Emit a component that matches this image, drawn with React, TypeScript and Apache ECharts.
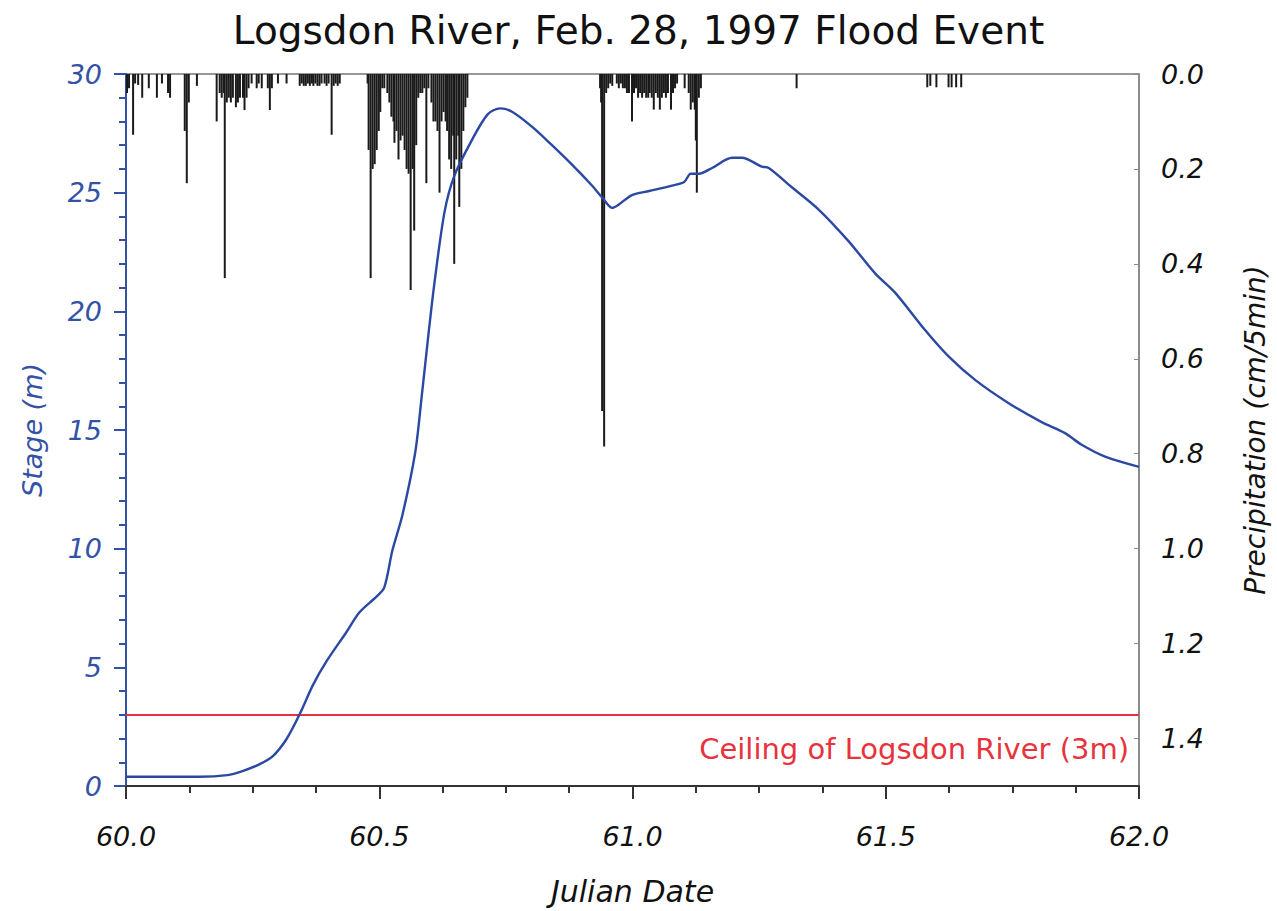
import React, { useEffect, useRef } from "react";
import * as echarts from "echarts";

// Stage hydrograph (Julian date, stage in m)
const stageTime = [
  60.0, 60.146, 60.2, 60.23, 60.264, 60.29, 60.317, 60.343, 60.369, 60.396,
  60.435, 60.461, 60.495, 60.51, 60.526, 60.546, 60.571, 60.584, 60.597, 60.609,
  60.629, 60.648, 60.68, 60.714, 60.739, 60.763, 60.802, 60.841, 60.881, 60.92,
  60.94, 60.96, 60.973, 60.999, 61.033, 61.078, 61.102, 61.115, 61.131, 61.157,
  61.197, 61.216, 61.255, 61.269, 61.314, 61.367, 61.426, 61.479, 61.518, 61.578,
  61.624, 61.677, 61.742, 61.807, 61.854, 61.886, 61.933, 62.0,
];
const stageValue = [
  0.39, 0.39, 0.46, 0.63, 0.92, 1.26, 1.98, 3.03, 4.25, 5.26,
  6.48, 7.32, 7.99, 8.37, 9.93, 11.44, 14.05, 16.45, 19.0, 21.2,
  24.2, 25.7, 27.1, 28.3, 28.55, 28.4, 27.77, 27.0, 26.17, 25.3,
  24.8, 24.36, 24.5, 24.9, 25.07, 25.3, 25.45, 25.8, 25.8, 26.04,
  26.47, 26.47, 26.1, 26.04, 25.24, 24.3, 22.97, 21.6, 20.8, 19.2,
  18.1, 17.1, 16.14, 15.34, 14.87, 14.39, 13.88, 13.45,
];

// Precipitation (Julian date, cm per 5 min)
const precipTime = [
  60.002, 60.006, 60.014, 60.018, 60.024, 60.032, 60.045, 60.061, 60.071, 60.083,
  60.087, 60.116, 60.12, 60.124, 60.14, 60.179, 60.185, 60.189, 60.193, 60.195,
  60.199, 60.203, 60.207, 60.211, 60.217, 60.221, 60.225, 60.231, 60.234, 60.238,
  60.242, 60.248, 60.258, 60.262, 60.268, 60.28, 60.284, 60.288, 60.3, 60.317,
  60.343, 60.347, 60.351, 60.355, 60.359, 60.363, 60.367, 60.37, 60.374, 60.378,
  60.382, 60.386, 60.392, 60.396, 60.4, 60.406, 60.41, 60.414, 60.418, 60.422,
  60.477, 60.479, 60.483, 60.487, 60.491, 60.495, 60.499, 60.502, 60.506, 60.51,
  60.516, 60.52, 60.524, 60.528, 60.53, 60.534, 60.538, 60.542, 60.546, 60.55,
  60.554, 60.558, 60.562, 60.566, 60.569, 60.573, 60.577, 60.581, 60.585, 60.589,
  60.593, 60.597, 60.603, 60.607, 60.611, 60.615, 60.619, 60.623, 60.627, 60.631,
  60.634, 60.638, 60.642, 60.646, 60.648, 60.652, 60.656, 60.658, 60.662, 60.666,
  60.67, 60.674,
  60.936, 60.938, 60.94, 60.944, 60.948, 60.952, 60.956, 60.96, 60.969, 60.973,
  60.977, 60.981, 60.985, 60.989, 60.993, 60.999, 61.003, 61.007, 61.011, 61.015,
  61.019, 61.023, 61.027, 61.031, 61.034, 61.038, 61.042, 61.046, 61.05, 61.054,
  61.058, 61.062, 61.066, 61.07, 61.076, 61.08, 61.084, 61.088, 61.103, 61.111,
  61.115, 61.119, 61.123, 61.125, 61.127, 61.131, 61.135, 61.324,
  61.582, 61.588, 61.6, 61.624, 61.63, 61.639, 61.649,
];
const precipValue = [
  0.04, 0.03, 0.128, 0.02, 0.023, 0.05, 0.03, 0.05, 0.02, 0.04,
  0.05, 0.12, 0.23, 0.06, 0.025, 0.1, 0.04, 0.05, 0.04, 0.43,
  0.06, 0.05, 0.06, 0.05, 0.07, 0.06, 0.05, 0.05, 0.076, 0.05,
  0.03, 0.02, 0.03, 0.02, 0.03, 0.03, 0.076, 0.03, 0.02, 0.02,
  0.025, 0.02, 0.025, 0.025, 0.02, 0.025, 0.02, 0.025, 0.02, 0.025,
  0.025, 0.02, 0.02, 0.025, 0.02, 0.128, 0.025, 0.02, 0.025, 0.02,
  0.02, 0.16, 0.43, 0.2, 0.19, 0.16, 0.12, 0.08, 0.03, 0.03,
  0.04, 0.06, 0.09, 0.1, 0.145, 0.12, 0.18, 0.14, 0.13, 0.16,
  0.2, 0.21, 0.455, 0.2, 0.33, 0.15, 0.05, 0.04, 0.04, 0.03,
  0.23, 0.03, 0.06, 0.1, 0.1, 0.12, 0.25, 0.1, 0.08, 0.1,
  0.12, 0.18, 0.2, 0.13, 0.4, 0.18, 0.13, 0.28, 0.2, 0.12,
  0.07, 0.05,
  0.03, 0.06, 0.71, 0.785, 0.04, 0.03, 0.02, 0.025, 0.02, 0.03,
  0.02, 0.03, 0.03, 0.04, 0.04, 0.1, 0.04, 0.03, 0.05, 0.04,
  0.05, 0.04, 0.05, 0.05, 0.04, 0.05, 0.075, 0.04, 0.05, 0.075,
  0.05, 0.04, 0.05, 0.04, 0.075, 0.04, 0.03, 0.02, 0.03, 0.04,
  0.075, 0.06, 0.075, 0.14, 0.25, 0.05, 0.03, 0.03,
  0.028, 0.025, 0.028, 0.028, 0.028, 0.028, 0.028,
];

const CEILING = 3;
const xTicks = { min: 60, max: 62, interval: 0.5 };
const stageAxis = { min: 0, max: 30, interval: 5 };
const precipAxis = { min: 0, max: 1.5, interval: 0.2 };

const FONT = "DejaVu Sans";
const BLUE = "#3352a6";
const LINE_BLUE = "#2b48a3";
const RED = "#e8323c";

export default function App() {
  const ref = useRef<HTMLDivElement>(null);

  useEffect(() => {
    if (!ref.current) return;
    const chart = echarts.init(ref.current, null, { renderer: "svg" });
    const stageData = stageTime.map((t, i) => [t, stageValue[i]]);
    const precipData = precipTime.map((t, i) => [t, precipValue[i]]);

    chart.setOption({
      animation: false,
      backgroundColor: "#ffffff",
      title: {
        text: "Logsdon River, Feb. 28, 1997 Flood Event",
        left: "center",
        top: 6,
        textStyle: { fontFamily: FONT, fontSize: 39, fontWeight: "normal", color: "#111" },
      },
      grid: {
        left: 126,
        right: 136,
        top: 74,
        bottom: 124,
        show: true,
        borderColor: "#777",
        borderWidth: 1.5,
        containLabel: false,
      },
      xAxis: {
        type: "value",
        min: xTicks.min,
        max: xTicks.max,
        interval: xTicks.interval,
        name: "Julian Date",
        nameLocation: "middle",
        nameGap: 90,
        nameTextStyle: { fontFamily: FONT, fontSize: 30, fontStyle: "italic", color: "#111" },
        axisLine: { show: true, onZero: false, lineStyle: { color: "#333", width: 2 } },
        axisTick: { show: true, inside: false, length: 13, lineStyle: { color: "#333", width: 2 } },
        minorTick: { show: true, splitNumber: 4, length: 7, lineStyle: { color: "#333", width: 2 } },
        splitLine: { show: false },
        axisLabel: {
          margin: 37,
          fontFamily: FONT,
          fontSize: 27,
          fontStyle: "italic",
          color: "#111",
          formatter: (v: number) => v.toFixed(1),
        },
      },
      yAxis: [
        {
          type: "value",
          position: "left",
          min: stageAxis.min,
          max: stageAxis.max,
          interval: stageAxis.interval,
          name: "Stage (m)",
          nameLocation: "middle",
          nameGap: 80,
          nameRotate: 90,
          nameTextStyle: { fontFamily: FONT, fontSize: 27, fontStyle: "italic", color: BLUE },
          axisLine: { show: true, onZero: false, lineStyle: { color: BLUE, width: 2 } },
          axisTick: { show: true, inside: false, length: 12, lineStyle: { color: BLUE, width: 2 } },
          minorTick: { show: true, splitNumber: 5, length: 7, lineStyle: { color: BLUE, width: 2 } },
          splitLine: { show: false },
          axisLabel: {
            margin: 24,
            fontFamily: FONT,
            fontSize: 27,
            fontStyle: "italic",
            color: BLUE,
          },
        },
        {
          type: "value",
          position: "right",
          inverse: true,
          min: precipAxis.min,
          max: precipAxis.max,
          interval: precipAxis.interval,
          name: "Precipitation (cm/5min)",
          nameLocation: "middle",
          nameGap: 102,
          nameRotate: 90,
          nameTextStyle: { fontFamily: FONT, fontSize: 28, fontStyle: "italic", color: "#111" },
          axisLine: { show: true, onZero: false, lineStyle: { color: "#888", width: 1.5 } },
          axisTick: { show: true, inside: true, length: 5, lineStyle: { color: "#888" } },
          splitLine: { show: false },
          axisLabel: {
            margin: 22,
            fontFamily: FONT,
            fontSize: 27,
            fontStyle: "italic",
            color: "#111",
            showMaxLabel: false,
            formatter: (v: number) => (v > 1.45 ? "" : v.toFixed(1)),
          },
        },
      ],
      series: [
        {
          name: "Precipitation",
          type: "bar",
          xAxisIndex: 0,
          yAxisIndex: 1,
          barWidth: 2,
          data: precipData,
          itemStyle: { color: "#1a1a1a" },
          silent: true,
          z: 2,
        },
        {
          name: "Stage",
          type: "line",
          xAxisIndex: 0,
          yAxisIndex: 0,
          data: stageData,
          smooth: 0.3,
          showSymbol: false,
          symbol: "none",
          lineStyle: { color: LINE_BLUE, width: 2.4 },
          z: 5,
          markLine: {
            silent: true,
            symbol: "none",
            animation: false,
            lineStyle: { color: RED, width: 2, type: "solid" },
            data: [{ yAxis: CEILING }],
            label: {
              show: true,
              position: "insideEndBottom",
              distance: [10, 20],
              formatter: "Ceiling of Logsdon River (3m)",
              fontFamily: FONT,
              fontSize: 29,
              color: RED,
            },
          },
        },
      ],
    });

    return () => chart.dispose();
  }, []);

  return (
    <div
      ref={ref}
      style={{ position: "fixed", left: 0, top: 0, width: 1277, height: 911, background: "#fff" }}
    />
  );
}
